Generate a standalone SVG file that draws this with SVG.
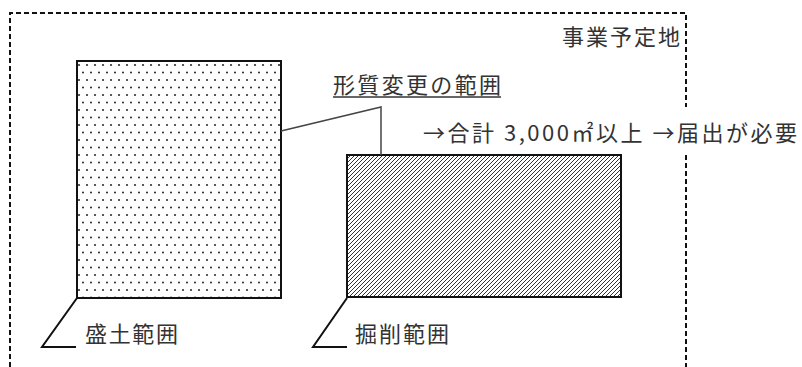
<svg xmlns="http://www.w3.org/2000/svg" width="802" height="367" viewBox="0 0 802 367">
<style>
.t{font-family:"Noto Sans CJK JP","Noto Sans",sans-serif;font-size:22px;fill:#333}
.lead{fill:none;stroke:#111;stroke-width:2}
.border{fill:none;stroke:#111;stroke-width:2;stroke-dasharray:5 3}
.box{stroke:#111;stroke-width:2}
</style>
<defs>
<pattern id="dots" x="77" y="61" width="16" height="15" patternUnits="userSpaceOnUse">
<circle cx="10" cy="4" r="1" fill="#222"/>
<circle cx="2" cy="4" r="1" fill="#222"/>
<circle cx="6" cy="11.5" r="1" fill="#222"/>
<circle cx="14" cy="11.5" r="1" fill="#222"/>
</pattern>
<pattern id="hatch" x="347" y="155" width="4" height="4" patternUnits="userSpaceOnUse">
<rect width="4" height="4" fill="#fff"/>
<path d="M-1,1 L1,-1 M0,4 L4,0 M3,5 L5,3" stroke="#333" stroke-width="1"/>
</pattern>
</defs>
<rect width="802" height="367" fill="#fff"/>
<g id="site">
<path class="border" d="M10,367 V13 H686 V107 M686,155 V367"/>
<text class="t" x="562" y="45" textLength="118" lengthAdjust="spacing">事業予定地</text>
</g>
<g id="fill-area">
<rect class="box" x="77" y="61" width="204" height="237" fill="url(#dots)"/>
</g>
<g id="cut-area">
<rect class="box" x="347" y="155" width="274" height="142" fill="url(#hatch)"/>
</g>
<g id="label-fill">
<text class="t" x="85" y="342" textLength="93" lengthAdjust="spacing">盛土範囲</text>
</g>
<g id="label-cut">
<text class="t" x="355" y="342" textLength="94" lengthAdjust="spacing">掘削範囲</text>
</g>
<g id="label-change">
<text class="t" x="333" y="93" textLength="168" lengthAdjust="spacing">形質変更の範囲</text>
<line x1="333" y1="97" x2="501" y2="97" stroke="#333" stroke-width="1.3"/>
</g>
<g id="note">
<text class="t" x="423" y="141" textLength="374" lengthAdjust="spacing">→合計 3,000㎡以上 →届出が必要</text>
</g>
<g id="connectors">
<path class="lead" d="M77,298 L42,347 H76"/>
<path class="lead" d="M347,298 L313,347 H347"/>
<path d="M281,131 L381,107 V155" fill="none" stroke="#444" stroke-width="1.5"/>
</g>
</svg>
